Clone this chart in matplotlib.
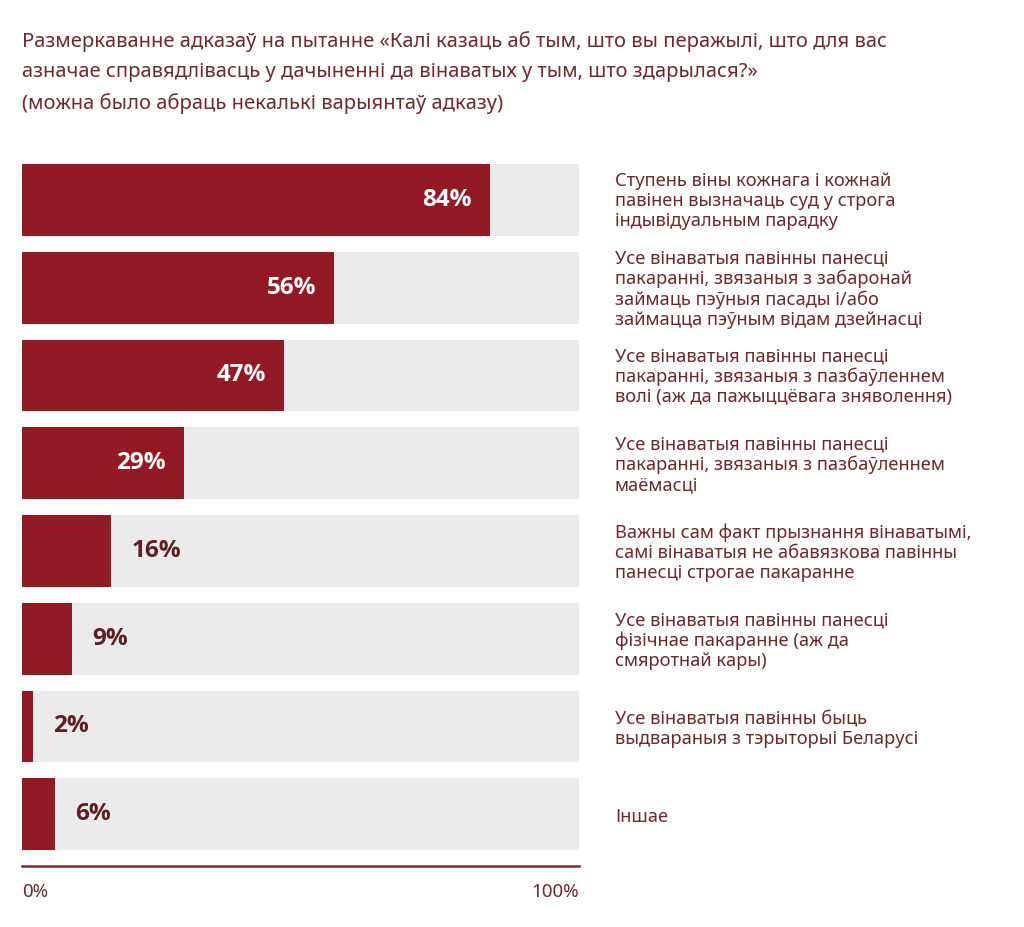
import matplotlib
matplotlib.use("Agg")
import matplotlib.pyplot as plt

plt.rcParams['font.family'] = ['Noto Sans', 'DejaVu Sans']

# дадзеныя
labels = [
    "Ступень віны кожнага і кожнай\nпавінен вызначаць суд у строга\nіндывідуальным парадку",
    "Усе вінаватыя павінны панесці\nпакаранні, звязаныя з забаронай\nзаймаць пэўныя пасады і/або\nзаймацца пэўным відам дзейнасці",
    "Усе вінаватыя павінны панесці\nпакаранні, звязаныя з пазбаўленнем\nволі (аж да пажыццёвага зняволення)",
    "Усе вінаватыя павінны панесці\nпакаранні, звязаныя з пазбаўленнем\nмаёмасці",
    "Важны сам факт прызнання вінаватымі,\nсамі вінаватыя не абавязкова павінны\nпанесці строгае пакаранне",
    "Усе вінаватыя павінны панесці\nфізічнае пакаранне (аж да\nсмяротнай кары)",
    "Усе вінаватыя павінны быць\nвыдвараныя з тэрыторыі Беларусі",
    "Іншае",
]
values = [84, 56, 47, 29, 16, 9, 2, 6]
tick_labels = ["0%", "100%"]

title = ("Размеркаванне адказаў на пытанне «Калі казаць аб тым, што вы перажылі, што для вас\n"
         "азначае справядлівасць у дачыненні да вінаватых у тым, што здарылася?»\n"
         "(можна было абраць некалькі варыянтаў адказу)")

BAR = "#931a25"
BG = "#ebebeb"
TXT = "#6b2a2f"
DARK = "#5c1f24"

W, H = 1024, 927
fig = plt.figure(figsize=(W / 100, H / 100), dpi=100)
ax = fig.add_axes([22 / W, 1 - 866 / H, (579 - 22) / W, (866 - 164) / H])

bh = 72 / 88
ys = list(range(len(values)))
ax.barh(ys, [100] * len(values), height=bh, color=BG, linewidth=0)
ax.barh(ys, values, height=bh, color=BAR, linewidth=0)

ax.set_xlim(0, 100)
ax.set_ylim(len(values) - 1 + bh / 2 + 16 / 88, -bh / 2)

px = 100 / (579 - 22)  # адзін піксель у адзінках восі x
vfont = ["Open Sans", "DejaVu Sans"]
for y, v, lab in zip(ys, values, labels):
    if v >= 25:
        ax.text(v - 18 * px, y, f"{v}%", ha="right", va="center",
                color="white", fontsize=17.5, fontweight="bold", family=vfont)
    else:
        ax.text(v + 20 * px, y, f"{v}%", ha="left", va="center",
                color=DARK, fontsize=17.5, fontweight="bold", family=vfont)
    ax.text(615 / W, 1 - (164 + 36 + y * 88 + 1) / H, lab, transform=fig.transFigure,
            ha="left", va="center", color=TXT, fontsize=13.2, linespacing=1.15)

for s in ["top", "right", "left"]:
    ax.spines[s].set_visible(False)
ax.spines["bottom"].set_color("#7a2a30")
ax.spines["bottom"].set_linewidth(1.8)
ax.set_yticks([])
ax.set_xticks([0, 100])
ax.set_xticklabels(tick_labels, color=TXT, fontsize=13.5)
ax.tick_params(axis="x", length=0, pad=12)
ax.get_xticklabels()[0].set_ha("left")
ax.get_xticklabels()[1].set_ha("right")

fig.text(22 / W, 1 - 31 / H, title, ha="left", va="top", color=TXT,
         fontsize=14.5, linespacing=1.68, fontstretch="condensed")

fig.savefig("out.png", dpi=100)
